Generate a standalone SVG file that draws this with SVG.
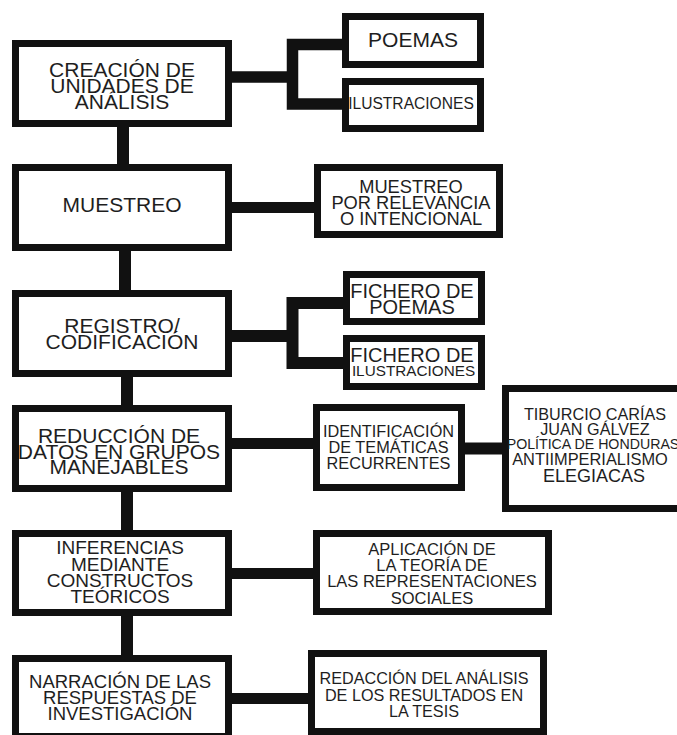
<svg xmlns="http://www.w3.org/2000/svg" width="677" height="735" viewBox="0 0 677 735">
<style>
.box{fill:#fff;stroke:#111;stroke-width:7}
.con{fill:none;stroke:#111;stroke-linejoin:miter;stroke-linecap:butt}
text{font-family:"Liberation Sans",Arial,sans-serif;fill:#1e1e1e;text-anchor:middle}
</style>
<rect width="677" height="735" fill="#fff"/>
<g id="connectors">
<path class="con" stroke-width="12" d="M123 127V164M125 251V290M127 377V405M127 492V530M127 616V655"/>
<path class="con" stroke-width="11.5" d="M232 77H292.5M342 44.5H292.5V104H342"/>
<path class="con" stroke-width="11" d="M232 207.5H314"/>
<path class="con" stroke-width="12" d="M232 336H292.5M343 303H292.5V363H343"/>
<path class="con" stroke-width="11" d="M232 443.5H313"/>
<path class="con" stroke-width="12" d="M465 448.5H502"/>
<path class="con" stroke-width="11" d="M232 573.5H313"/>
<path class="con" stroke-width="11" d="M232 698.5H308"/>
</g>
<g id="n1"><rect class="box" x="15.5" y="43.5" width="213" height="80"/>
<text font-size="21"><tspan x="122" y="77">CREACIÓN DE</tspan><tspan x="122" y="93">UNIDADES DE</tspan><tspan x="122" y="109">ANÁLISIS</tspan></text></g>
<g id="n2"><rect class="box" x="15.5" y="167.5" width="213" height="80"/>
<text font-size="21" x="122" y="212">MUESTREO</text></g>
<g id="n3"><rect class="box" x="15.5" y="293.5" width="213" height="80"/>
<text font-size="21"><tspan x="122" y="333">REGISTRO/</tspan><tspan x="122" y="349">CODIFICACIÓN</tspan></text></g>
<g id="n4"><rect class="box" x="15.5" y="408.5" width="213" height="80"/>
<text font-size="21"><tspan x="119" y="443">REDUCCIÓN DE</tspan><tspan x="119" y="458.5">DATOS EN GRUPOS</tspan><tspan x="119" y="474">MANEJABLES</tspan></text></g>
<g id="n5"><rect class="box" x="15.5" y="533.5" width="213" height="79"/>
<text font-size="19"><tspan x="120" y="554">INFERENCIAS</tspan><tspan x="120" y="570.5">MEDIANTE</tspan><tspan x="120" y="587">CONSTRUCTOS</tspan><tspan x="120" y="603">TEÓRICOS</tspan></text></g>
<g id="n6"><rect class="box" x="15.5" y="658.5" width="213" height="78"/>
<text font-size="18.5"><tspan x="120" y="688">NARRACIÓN DE LAS</tspan><tspan x="120" y="704">RESPUESTAS DE</tspan><tspan x="120" y="720">INVESTIGACIÓN</tspan></text></g>
<g id="n7"><rect class="box" x="345.5" y="16.5" width="135" height="48"/>
<text font-size="21" x="413" y="46.5">POEMAS</text></g>
<g id="n8"><rect class="box" x="345.5" y="81.5" width="135" height="47"/>
<text font-size="15.6" x="411" y="109">ILUSTRACIONES</text></g>
<g id="n9"><rect class="box" x="317.5" y="167.5" width="182" height="67"/>
<text font-size="18.3"><tspan x="411" y="193">MUESTREO</tspan><tspan x="411" y="209">POR RELEVANCIA</tspan><tspan x="411" y="225">O INTENCIONAL</tspan></text></g>
<g id="n10"><rect class="box" x="346.5" y="274.5" width="135" height="47"/>
<text font-size="20"><tspan x="412" y="298">FICHERO DE</tspan><tspan x="412" y="314">POEMAS</tspan></text></g>
<g id="n11"><rect class="box" x="346.5" y="338.5" width="135" height="48"/>
<text><tspan font-size="20" x="412" y="362">FICHERO DE</tspan><tspan font-size="15.3" x="413.5" y="376">ILUSTRACIONES</tspan></text></g>
<g id="n12"><rect class="box" x="316.5" y="407.5" width="145" height="80"/>
<text font-size="16.3"><tspan x="388.5" y="437">IDENTIFICACIÓN</tspan><tspan x="388.5" y="453">DE TEMÁTICAS</tspan><tspan x="388.5" y="469">RECURRENTES</tspan></text></g>
<g id="n13"><rect class="box" x="505.5" y="388.5" width="220" height="120"/>
<text><tspan font-size="16.2" x="595" y="420">TIBURCIO CARÍAS</tspan><tspan font-size="16.2" x="595" y="435">JUAN GÁLVEZ</tspan><tspan font-size="14.2" x="593" y="448.5">POLÍTICA DE HONDURAS</tspan><tspan font-size="16.4" x="590" y="465">ANTIIMPERIALISMO</tspan><tspan font-size="18" x="594" y="482">ELEGIACAS</tspan></text></g>
<g id="n14"><rect class="box" x="316.5" y="533.5" width="232" height="78"/>
<text font-size="16.5"><tspan x="432" y="555">APLICACIÓN DE</tspan><tspan x="432" y="571">LA TEORÍA DE</tspan><tspan x="432" y="587">LAS REPRESENTACIONES</tspan><tspan x="432" y="604">SOCIALES</tspan></text></g>
<g id="n15"><rect class="box" x="311.5" y="653.5" width="232" height="78"/>
<text font-size="16.2"><tspan x="424" y="684">REDACCIÓN DEL ANÁLISIS</tspan><tspan x="424" y="701">DE LOS RESULTADOS EN</tspan><tspan x="424" y="717">LA TESIS</tspan></text></g>
</svg>
